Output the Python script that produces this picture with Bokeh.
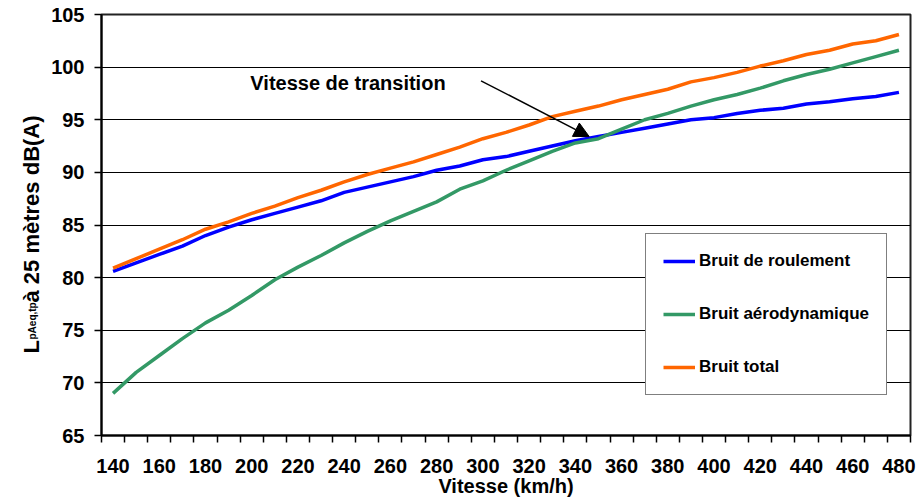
from math import pi
from bokeh.plotting import figure
from bokeh.layouts import row
from bokeh.models import (FixedTicker, Legend, LegendItem, Label, Arrow,
                          NormalHead, Range1d)
from bokeh.embed import file_html
from bokeh.resources import INLINE

# ---------------- data ----------------
speeds = [140, 150, 160, 170, 180, 190, 200, 210, 220, 230, 240, 250,
          260, 270, 280, 290, 300, 310, 320, 330, 340, 350, 360, 370,
          380, 390, 400, 410, 420, 430, 440, 450, 460, 470, 480]

bruit_roulement = [80.6, 81.4, 82.2, 83.0, 84.0, 84.8, 85.5, 86.1, 86.7, 87.3,
                   88.1, 88.6, 89.1, 89.6, 90.2, 90.6, 91.2, 91.5, 92.0, 92.5,
                   93.0, 93.4, 93.8, 94.2, 94.6, 95.0, 95.2, 95.6, 95.9, 96.1,
                   96.5, 96.7, 97.0, 97.2, 97.6]

bruit_aero = [69.0, 71.0, 72.6, 74.2, 75.7, 76.9, 78.3, 79.8, 81.0, 82.1,
              83.3, 84.4, 85.4, 86.3, 87.2, 88.4, 89.2, 90.2, 91.1, 92.0,
              92.8, 93.2, 94.1, 95.0, 95.6, 96.3, 96.9, 97.4, 98.0, 98.7,
              99.3, 99.8, 100.4, 101.0, 101.6]

bruit_total = [80.9, 81.8, 82.7, 83.6, 84.6, 85.3, 86.1, 86.8, 87.6, 88.3,
               89.1, 89.8, 90.4, 91.0, 91.7, 92.4, 93.2, 93.8, 94.5, 95.3,
               95.8, 96.3, 96.9, 97.4, 97.9, 98.6, 99.0, 99.5, 100.1, 100.6,
               101.2, 101.6, 102.2, 102.5, 103.1]

series_names = ["Bruit de roulement", "Bruit aérodynamique", "Bruit total"]
x_tick_labels = [140, 160, 180, 200, 220, 240, 260, 280, 300, 320, 340,
                 360, 380, 400, 420, 440, 460, 480]
y_ticks = [65, 70, 75, 80, 85, 90, 95, 100, 105]
y_title_parts = ["L", "pAeq,tp", " à 25 mètres dB(A)"]

FONT = "Liberation Sans"
H = 499
TW = 48  # width of the y-title panel

# ---------------- main chart ----------------
p = figure(width=918 - TW, height=H, output_backend="svg",
           toolbar_location=None,
           x_range=Range1d(135, 485), y_range=Range1d(65, 105),
           min_border_left=97 - TW, min_border_right=8, min_border_top=14,
           min_border_bottom=0)
p.background_fill_color = "white"
p.border_fill_color = "white"
p.outline_line_color = "#222222"
p.outline_line_width = 2

xax = p.xaxis[0]
xax.ticker = FixedTicker(ticks=x_tick_labels,
                         minor_ticks=[s - 5 for s in speeds] + [speeds[-1] + 5])
xax.major_tick_out = 0
xax.major_tick_in = 0
xax.minor_tick_out = 7
xax.minor_tick_in = 0
xax.minor_tick_line_color = "black"
xax.minor_tick_line_width = 1.5
xax.axis_line_color = "black"
xax.axis_line_width = 2
xax.major_label_text_font = FONT
xax.major_label_text_font_style = "bold"
xax.major_label_text_font_size = "20px"
xax.major_label_text_color = "black"
xax.major_label_standoff = 16
xax.axis_label = "Vitesse (km/h)"
xax.axis_label_text_font = FONT
xax.axis_label_text_font_style = "bold"
xax.axis_label_text_font_size = "20px"
xax.axis_label_text_color = "black"
xax.axis_label_standoff = -1

yax = p.yaxis[0]
yax.ticker = FixedTicker(ticks=y_ticks)
yax.major_tick_out = 7
yax.major_tick_in = 0
yax.major_tick_line_color = "black"
yax.major_tick_line_width = 1.5
yax.minor_tick_out = 0
yax.minor_tick_in = 0
yax.axis_line_color = "black"
yax.axis_line_width = 2
yax.major_label_text_font = FONT
yax.major_label_text_font_style = "bold"
yax.major_label_text_font_size = "20px"
yax.major_label_text_color = "black"
yax.major_label_standoff = 10

p.xgrid.visible = False
p.ygrid.ticker = FixedTicker(ticks=y_ticks)
p.ygrid.grid_line_color = "black"
p.ygrid.grid_line_width = 1.2
p.ygrid.grid_line_alpha = 1.0

r1 = p.line(speeds, bruit_roulement, line_color="#0000FF", line_width=3.5)
r2 = p.line(speeds, bruit_aero, line_color="#339966", line_width=3.5)
r3 = p.line(speeds, bruit_total, line_color="#FF6600", line_width=3.5)

legend = Legend(items=[LegendItem(label=series_names[0], renderers=[r1]),
                       LegendItem(label=series_names[1], renderers=[r2]),
                       LegendItem(label=series_names[2], renderers=[r3])],
                location=(544, 40))
legend.border_line_color = "black"
legend.border_line_width = 1.5
legend.background_fill_color = "white"
legend.background_fill_alpha = 1.0
legend.label_text_font = FONT
legend.label_text_font_style = "bold"
legend.label_text_font_size = "17px"
legend.label_text_color = "black"
legend.glyph_width = 32
legend.glyph_height = 20
legend.label_standoff = 4
legend.spacing = 33
legend.padding = 17
legend.margin = 0
p.add_layout(legend)

p.add_layout(Label(x=199.4, y=98.45, text="Vitesse de transition",
                   text_font=FONT, text_font_style="bold",
                   text_font_size="20px", text_color="black",
                   text_baseline="alphabetic", text_align="left"))
p.add_layout(Arrow(x_start=299.2, y_start=98.7, x_end=346.0, y_end=93.4,
                   line_color="black", line_width=1.5,
                   end=NormalHead(size=15, fill_color="black",
                                  line_color="black")))

# ---------------- y-axis title panel (with subscript) ----------------
# its frame is aligned with the main frame (y = 0 at the main x axis)
t = figure(width=TW, height=H, output_backend="svg", toolbar_location=None,
           x_range=Range1d(0, TW), y_range=Range1d(0, 1),
           min_border=0, x_axis_location=None, y_axis_location=None)
t.outline_line_color = None
t.background_fill_color = "white"
t.border_fill_color = "white"
t.grid.visible = False

common = dict(angle=pi / 2, x_units="screen", y_units="screen",
              text_font=FONT, text_font_style="bold",
              text_color="black", text_baseline="alphabetic",
              text_align="left")
t.add_layout(Label(x=30.5, y=82, text=y_title_parts[0],
                   text_font_size="22px", **common))
t.add_layout(Label(x=31.5, y=96, text=y_title_parts[1],
                   text_font_size="10px", **common))
t.add_layout(Label(x=30.5, y=133, text=y_title_parts[2],
                   text_font_size="22px", **common))

layout = row(t, p)
open("out.html", "w").write(file_html(layout, INLINE))
